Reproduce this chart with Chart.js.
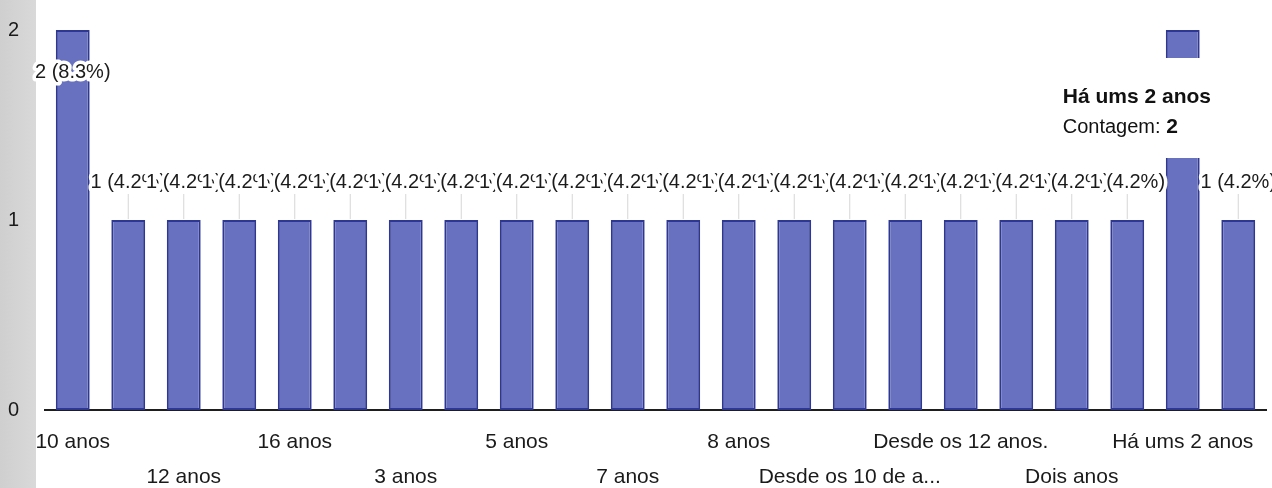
<!DOCTYPE html>
<html>
<head>
<meta charset="utf-8">
<script src="https://cdn.jsdelivr.net/npm/chart.js@4/dist/chart.umd.min.js"></script>
<style>
    html, body { margin: 0; padding: 0; background: #fff; }
    body { width: 1272px; height: 488px; position: relative; overflow: hidden; }
    .strip { position: absolute; left: 0; top: 0; width: 36px; height: 488px; background: linear-gradient(to right, #cfcfcf, #d9d9d9); }
    #wrap { position: absolute; left: 0; top: 0; width: 1272px; height: 488px; }
</style>
</head>
<body>
<div class="strip"></div>
<div id="wrap"><canvas id="myChart" width="1272" height="488"></canvas></div>
<script>
const categories = [
    '10 anos', '11 anos', '12 anos', '15 anos', '16 anos', '2 anos', '3 anos', '4 anos',
    '5 anos', '6 anos', '7 anos', '7 meses', '8 anos', '9 anos', 'Desde os 10 de a...',
    'Desde os 11 anos', 'Desde os 12 anos.', 'Desde pequena', 'Dois anos', 'Há 5 anos',
    'Há ums 2 anos', 'Um ano'
];
const counts = [2, 1, 1, 1, 1, 1, 1, 1, 1, 1, 1, 1, 1, 1, 1, 1, 1, 1, 1, 1, 2, 1];
const yTicks = [0, 1, 2];
const seriesName = 'Contagem';
const focusIndex = 20;

const total = counts.reduce((a, b) => a + b, 0);
const FONT = '"Liberation Sans", Arial, sans-serif';

// value labels "n (x%)" with white halo, drawn left to right so later ones overlap
const valueLabels = {
    id: 'valueLabels',
    afterDatasetsDraw(chart) {
        const ctx = chart.ctx;
        const meta = chart.getDatasetMeta(0);
        ctx.save();
        ctx.font = '20px ' + FONT;
        ctx.textAlign = 'center';
        ctx.textBaseline = 'middle';
        meta.data.forEach((bar, i) => {
            const v = counts[i];
            const text = v + ' (' + (v / total * 100).toFixed(1) + '%)';
            let y = bar.y - 38;
            let inside = false;
            if (y < chart.chartArea.top) {
                y = bar.y + 42;
                inside = true;
            }
            if (!inside) {
                ctx.strokeStyle = '#d6d6d6';
                ctx.lineWidth = 1;
                ctx.beginPath();
                ctx.moveTo(bar.x, y + 12);
                ctx.lineTo(bar.x, bar.y - 1);
                ctx.stroke();
            }
            ctx.lineJoin = 'round';
            ctx.lineWidth = 7;
            ctx.strokeStyle = '#fff';
            ctx.strokeText(text, bar.x, y);
            ctx.fillStyle = '#1b1b1b';
            ctx.fillText(text, bar.x, y);
        });
        ctx.restore();
    }
};

// hover box for the focused bar
const focusBox = {
    id: 'focusBox',
    afterDraw(chart) {
        const ctx = chart.ctx;
        const bar = chart.getDatasetMeta(0).data[focusIndex];
        const left = bar.x - 128;
        const top = bar.y + 28;
        ctx.save();
        ctx.fillStyle = '#fff';
        ctx.fillRect(left, top, 182, 100);
        ctx.fillStyle = '#111';
        ctx.textAlign = 'left';
        ctx.textBaseline = 'middle';
        ctx.font = 'bold 21px ' + FONT;
        ctx.fillText(categories[focusIndex], left + 8, top + 39);
        ctx.font = '20px ' + FONT;
        const prefix = seriesName + ': ';
        ctx.fillText(prefix, left + 8, top + 69);
        const w = ctx.measureText(prefix).width;
        ctx.font = 'bold 21px ' + FONT;
        ctx.fillText(String(counts[focusIndex]), left + 8 + w, top + 69);
        ctx.restore();
    }
};

const ctx = document.getElementById('myChart').getContext('2d');
new Chart(ctx, {
    type: 'bar',
    data: {
        labels: categories,
        datasets: [{
            label: seriesName,
            data: counts,
            backgroundColor: '#6871c0',
            borderColor: '#2e3791',
            borderWidth: 2,
            borderSkipped: false,
            barPercentage: 0.61,
            categoryPercentage: 1
        }]
    },
    options: {
        responsive: false,
        animation: false,
        layout: { padding: { top: 21, right: 6, left: 0, bottom: 0 } },
        plugins: {
            legend: { display: false },
            tooltip: { enabled: false }
        },
        scales: {
            x: {
                grid: { display: false },
                border: { display: true, color: '#1e1e1e', width: 2 },
                ticks: {
                    autoSkip: false,
                    maxRotation: 0,
                    padding: 7,
                    color: '#1a1a1a',
                    font: { family: FONT, size: 21, lineHeight: 1.65 },
                    callback: function (value, index) {
                        if (index % 2) return null;
                        const name = categories[index];
                        return index % 4 === 2 ? ['', name] : name;
                    }
                },
                afterFit(scale) { scale.height = 78; }
            },
            y: {
                min: 0,
                max: 2,
                grid: { display: false },
                border: { display: false },
                afterBuildTicks(scale) { scale.ticks = yTicks.map(v => ({ value: v })); },
                ticks: {
                    padding: 18,
                    color: '#1a1a1a',
                    font: { family: FONT, size: 20 }
                },
                afterFit(scale) { scale.width = 45; }
            }
        }
    },
    plugins: [valueLabels, focusBox]
});
</script>
</body>
</html>
